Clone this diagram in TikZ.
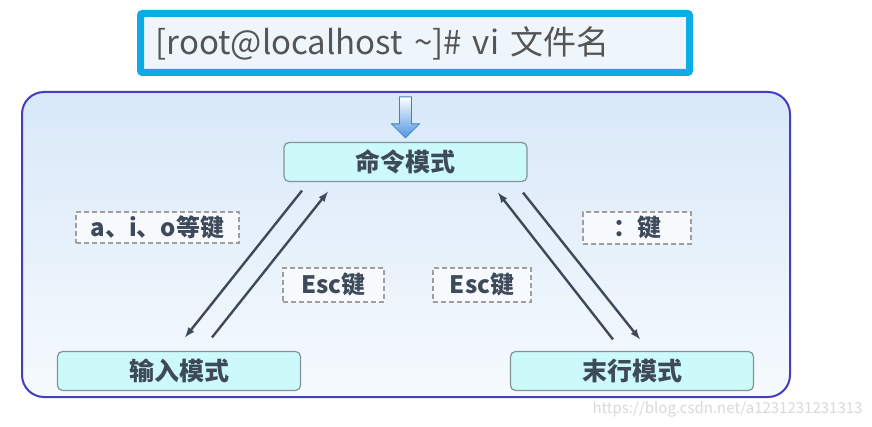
\documentclass[tikz,border=0pt]{standalone}
\usepackage{fontspec}
\setmainfont{Noto Sans CJK SC}
\usepackage{xcolor}
\usetikzlibrary{arrows,positioning,calc}
\definecolor{termcyan}{RGB}{12,172,228}
\definecolor{termfill}{RGB}{238,246,252}
\definecolor{termtext}{RGB}{85,85,85}
\definecolor{framepurple}{RGB}{70,60,190}
\definecolor{bgtop}{RGB}{216,232,248}
\definecolor{bgbottom}{RGB}{246,250,254}
\definecolor{modefill}{RGB}{204,250,250}
\definecolor{modeline}{RGB}{130,148,150}
\definecolor{inkgray}{RGB}{62,74,90}
\definecolor{arrowblue}{RGB}{80,150,225}
\definecolor{keyfill}{RGB}{246,250,253}

\tikzset{
  mode/.style={draw=modeline, fill=modefill, rounded corners=5pt, line width=1.2pt,
    minimum width=243pt, minimum height=39pt, inner sep=0pt, text=inkgray,
    font=\fontsize{25}{25}\selectfont\bfseries},
  keylabel/.style={draw=gray!75, dash pattern=on 5pt off 3pt, line width=1.3pt, fill=keyfill,
    inner sep=0pt, text=inkgray, font=\fontsize{24}{24}\selectfont\bfseries},
  flow/.style={->, >=latex, line width=2.4pt, draw=inkgray}
}

\begin{document}
\begin{tikzpicture}[x=1pt, y=-1pt]
      \fill [white] (0, 0) rectangle (872, 427);
      \useasboundingbox (0, 0) rectangle (872, 427);
      % command line on top
      \node (cmdline) [draw=termcyan, line width=7pt, fill=termfill, rounded corners=2pt,
        minimum width=549pt, minimum height=59pt, inner xsep=15pt, text width=519pt, align=left,
        text=termtext, font=\fontsize{33}{33}\selectfont] at (415, 43)
      {[root@localhost \textasciitilde]\# vi 文件名};
      % frame of the three modes
      \draw [framepurple, line width=2pt, rounded corners=22pt, top color=bgtop, bottom color=bgbottom]
        (22, 92) rectangle (790, 397);
      \node (cmd) [mode] at (405.5, 162) {命令模式};
      \node (input) [mode] at (179, 371) {输入模式};
      \node (lastline) [mode] at (632, 371) {末行模式};
      % entry arrow
      \draw [draw=arrowblue!85!black, line width=0.8pt, top color=white, bottom color=arrowblue]
        ($(cmd.north)+(-6, -45)$) -- ++(12, 0) -- ++(0, 27) -- ++(8, 0) -- ++(-14, 14)
        -- ++(-14, -14) -- ++(8, 0) -- cycle;
      % switching between the modes
      \draw [flow] ($(cmd.south)+(-103.5, 8.5)$) to ($(input.north)+(6, -13.5)$);
      \draw [flow] ($(input.north)+(33, -13.5)$) to ($(cmd.south)+(-77.5, 9.5)$);
      \draw [flow] ($(lastline.north)+(-19, -11.5)$) to ($(cmd.south)+(92.5, 10.5)$);
      \draw [flow] ($(cmd.south)+(117.5, 10.5)$) to ($(lastline.north)+(8, -11.5)$);
      \node (key_aio) [keylabel, minimum width=163pt, minimum height=31pt] at (157.5, 227.5) {a、i、o等键};
      \node (key_esc_in) [keylabel, minimum width=101pt, minimum height=34pt] at (333.5, 285) {Esc键};
      \node (key_esc_last) [keylabel, minimum width=98pt, minimum height=34pt] at (482, 285) {Esc键};
      \node (key_colon) [keylabel, minimum width=108pt, minimum height=32pt] at (637, 228) {：键};
      \node (mark) [anchor=east, text=gray!30, font=\fontsize{15}{15}\selectfont] at (866, 409)
      {https://blog.csdn.net/a1231231231313};
    \end{tikzpicture}
\end{document}
